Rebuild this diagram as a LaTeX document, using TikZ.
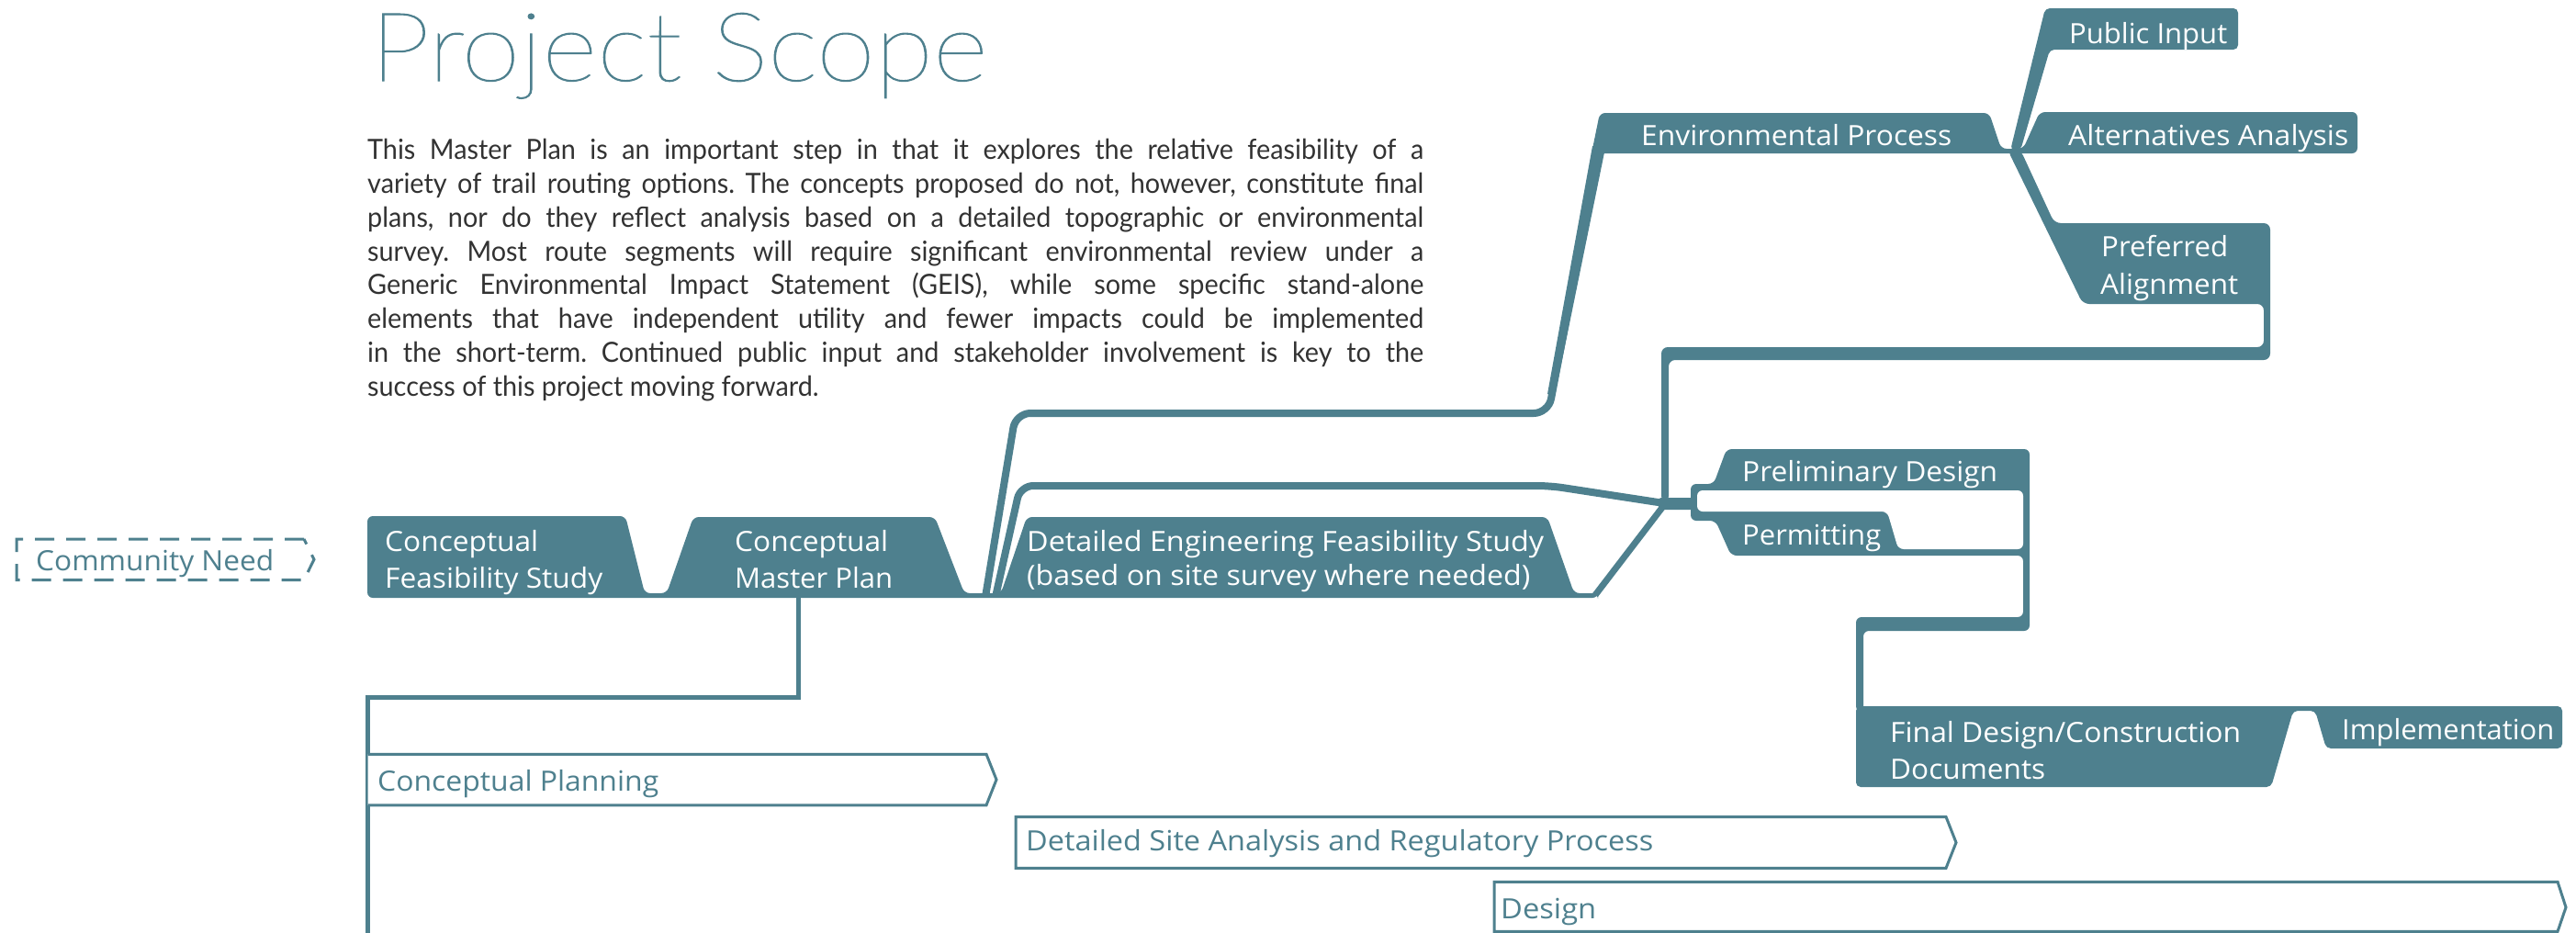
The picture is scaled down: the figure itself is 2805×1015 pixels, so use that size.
\documentclass[tikz,border=0pt]{standalone}
\usepackage{fontspec}
\usepackage{graphicx}
\setmainfont{Lato}
\IfFontExistsTF{Lato Thin}{\newfontfamily\titlefont{Lato Thin}[RawFeature={embolden=1}]}{%
  \IfFontExistsTF{Lato Hairline}{\newfontfamily\titlefont{Lato Hairline}[RawFeature={embolden=2}]}{\newfontfamily\titlefont{Lato Light}}}
\newfontfamily\lblfont{Open Sans}
\definecolor{tealc}{RGB}{78,128,142}
\definecolor{bodyc}{RGB}{50,50,50}
\newcommand\fitw[2]{\resizebox{#1}{\height}{#2}}
\tikzset{
  lbl/.style={anchor=base west, inner sep=0pt, text=white, font={\lblfont\fontsize{30.4}{36}\selectfont}},
  tlbl/.style={lbl, text=tealc},
  ganttbar/.style={draw=tealc, line width=3pt, fill=white, line join=miter},
  ribbon/.style={fill=tealc, draw=none},
  thinline/.style={draw=tealc, line width=5pt},
}
\begin{document}
\frenchspacing
\begin{tikzpicture}[x=1pt,y=-1pt]
\useasboundingbox (0,0) rectangle (2805,1015);
\fill[white] (0,0) rectangle (2805,1015);

% title and paragraph
\node[anchor=base west, inner sep=0pt, text=tealc, font={\titlefont\fontsize{104.3}{110}\selectfont}] (title) at (403,88) {\fitw{672pt}{Project Scope}};
\node[anchor=base west, inner sep=0pt, text=bodyc, font={\fontsize{30.3}{36.9}\selectfont}, text width=1210pt, align=justify, xscale=0.9504, transform shape] (body) at (400,173.3)
{This Master Plan is an important step in that it explores the relative feasibility of a\linebreak
variety of trail routing options. The concepts proposed do not, however, constitute final\linebreak
plans, nor do they reflect analysis based on a detailed topographic or environmental\linebreak
survey. Most route segments will require significant environmental review under a\linebreak
Generic Environmental Impact Statement (GEIS), while some specific stand-alone\linebreak
elements that have independent utility and fewer impacts could be implemented\linebreak
in the short-term. Continued public input and stakeholder involvement is key to the\linebreak
success of this project moving forward.};

% community need
\draw[tealc, line width=3pt, dash pattern=on 21pt off 13pt] (331,587) -- (18,587) -- (18,631.5) -- (331,631.5) -- (342,609.25) -- cycle;

% timeline lines
\draw[thinline] (869,648) -- (869,759.8) -- (400.5,759.8) -- (400.5,1017);
\draw[ganttbar] (400.5,821.3) -- (1074,821.3) -- (1085,849) -- (1074,876.8) -- (400.5,876.8);
\draw[ganttbar] (1106,889.5) -- (2119,889.5) -- (2130,917.5) -- (2119,945.3) -- (1106,945.3) -- cycle;
\draw[ganttbar] (1627,960.3) -- (2785,960.3) -- (2794,988) -- (2785,1014.3) -- (1627,1014.3) -- cycle;

% branch lines from the conceptual master plan
\draw[tealc, line width=8pt, rounded corners=16pt] (1073,650) -- (1106,450) -- (1686,450) -- (1741,160);
\fill[tealc] (1685,429) -- (1693,431) -- (1748,161) -- (1734,159) -- cycle;
\draw[tealc, line width=8pt, rounded corners=14pt] (1084,650) -- (1111,529) -- (1688,529) -- (1812,548);
\draw[tealc, line width=7pt] (1737,648) -- (1812,550);

% main ribbon
\fill[ribbon, rounded corners=6pt] (400,651) -- (400,562) -- (681,562) -- (702,646) -- (726,646) -- (755,563) -- (1018,563) -- (1050,646) -- (1090,646) -- (1118,563) -- (1685,563) -- (1714,646) -- (1740,646) -- (1740,651) -- cycle;

% preferred alignment loop
\fill[ribbon, rounded corners=7pt] (2186,163) -- (2200,163) -- (2237,243) -- (2472,243) -- (2472,392) -- (1817,392) -- (1817,547) -- (1809,547) -- (1809,378) -- (2465,378) -- (2465,331) -- (2268,331) -- cycle;

% environmental process + alternatives
\fill[ribbon, rounded corners=6pt] (1733,167) -- (1742,123) -- (2166,123) -- (2179,162) -- (2203,162) -- (2221,122) -- (2567,122) -- (2567,167) -- cycle;
% public input
\fill[ribbon, rounded corners=5pt] (2189,164) -- (2227,9) -- (2437,9) -- (2437,54) -- (2232,54) -- (2200,164) -- cycle;

% junction
\fill[ribbon, rounded corners=3pt] (1806,542) rectangle (1848,555);

% preliminary design / permitting frame
\fill[ribbon, rounded corners=6pt] (1880,489) -- (2210,489) -- (2210,687) -- (2029,687) -- (2029,775) -- (2021,775) -- (2021,672) -- (2203,672) -- (2203,605) -- (1885,605) -- (1868,567) -- (1841,567) -- (1841,527) -- (1866,527) -- cycle;
\fill[white, rounded corners=6pt] (1848,534) -- (2203,534) -- (2203,598) -- (2067,598) -- (2055,557) -- (1848,557) -- cycle;

% final design + implementation
\fill[ribbon, rounded corners=5pt] (2021,857) -- (2021,769) -- (2790,769) -- (2790,815) -- (2533,815) -- (2521,774) -- (2497,774) -- (2473,857) -- cycle;

% labels
\node[lbl] (cfs1) at (419,600) {\fitw{167pt}{Conceptual}};
\node[lbl] (cfs2) at (419,640) {\fitw{237pt}{Feasibility Study}};
\node[lbl] (cmp1) at (800,600) {\fitw{167pt}{Conceptual}};
\node[lbl] (cmp2) at (800,640) {\fitw{172pt}{Master Plan}};
\node[lbl] (def1) at (1118,600) {\fitw{563pt}{Detailed Engineering Feasibility Study}};
\node[lbl] (def2) at (1118,637) {\fitw{548pt}{(based on site survey where needed)}};
\node[lbl] (env) at (1787,158) {\fitw{338pt}{Environmental Process}};
\node[lbl] (alt) at (2252,158) {\fitw{305pt}{Alternatives Analysis}};
\node[lbl] (pub) at (2253,47) {\fitw{172pt}{Public Input}};
\node[lbl] (pref1) at (2288,279) {\fitw{138pt}{Preferred}};
\node[lbl] (pref2) at (2287,320) {\fitw{150pt}{Alignment}};
\node[lbl] (prel) at (1897,524) {\fitw{278pt}{Preliminary Design}};
\node[lbl] (perm) at (1897,593) {\fitw{151pt}{Permitting}};
\node[lbl] (fin1) at (2058,808) {\fitw{382pt}{Final Design/Construction}};
\node[lbl] (fin2) at (2058,848) {\fitw{169pt}{Documents}};
\node[lbl] (impl) at (2550,805) {\fitw{231pt}{Implementation}};
\node[tlbl] (cn) at (39,621.5) {\fitw{259pt}{Community Need}};
\node[tlbl] (cpl) at (411,861.7) {\fitw{306pt}{Conceptual Planning}};
\node[tlbl] (dsa) at (1117,926.7) {\fitw{683pt}{Detailed Site Analysis and Regulatory Process}};
\node[tlbl] (des) at (1634,1000) {\fitw{104pt}{Design}};
\end{tikzpicture}
\end{document}
